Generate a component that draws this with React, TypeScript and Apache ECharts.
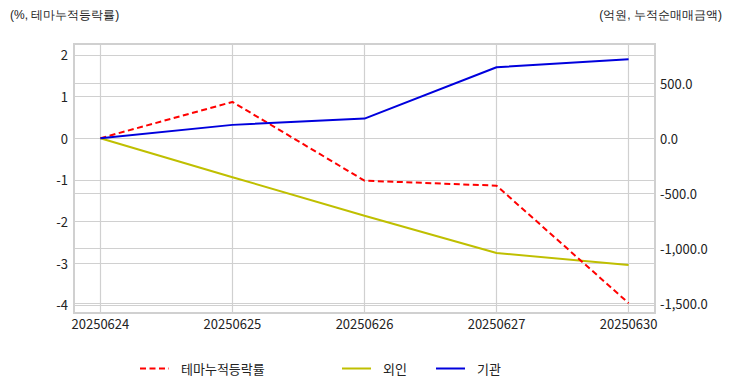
import React, { useEffect, useRef } from "react";
import * as echarts from "echarts";

const categories = ["20250624", "20250625", "20250626", "20250627", "20250630"];
const themeReturn = [0, 0.87, -1.02, -1.14, -3.96];
const foreign = [0, -355, -706, -1045, -1155];
const institution = [0, 121, 178, 645, 718];
const leftTicks = [-4, -3, -2, -1, 0, 1, 2];
const rightTicks = [-1500, -1000, -500, 0, 500];
const xTicks = [0, 1, 2, 3, 4];

const FONT = "'Noto Sans CJK KR', 'Noto Sans', sans-serif";

function fmtRight(v: number) {
  return v.toLocaleString("en-US", { minimumFractionDigits: 1, maximumFractionDigits: 1 });
}

export default function App() {
  const ref = useRef<HTMLDivElement>(null);
  useEffect(() => {
    if (!ref.current) return;
    const chart = echarts.init(ref.current, null, { renderer: "svg" });
    const toPairs = (arr: number[]) => arr.map((v, i) => [i, v]);
    const legendText = { fontSize: 13, color: "#222", fontFamily: FONT, padding: [0, 0, 0, 7] };
    const legendBase = {
      top: 362,
      padding: 0,
      itemWidth: 29,
      itemHeight: 14,
      itemStyle: { opacity: 0 },
      textStyle: legendText,
    };
    chart.setOption({
      animation: false,
      backgroundColor: "#ffffff",
      textStyle: { fontFamily: FONT },
      grid: {
        left: 74,
        right: 77,
        top: 44,
        height: 269,
        show: true,
        borderColor: "#d0d0d0",
        borderWidth: 2,
        containLabel: false,
      },
      graphic: [
        {
          type: "text",
          left: 10,
          top: 9,
          style: { text: "(%, 테마누적등락률)", fontSize: 12, fill: "#222", font: `12px ${FONT}` },
        },
        {
          type: "text",
          right: 10,
          top: 9,
          style: { text: "(억원, 누적순매매금액)", fontSize: 12, fill: "#222", font: `12px ${FONT}` },
        },
      ],
      legend: [
        { ...legendBase, data: ["테마누적등락률"], left: 139 },
        { ...legendBase, data: ["외인"], left: 341 },
        { ...legendBase, data: ["기관"], left: 435 },
      ],
      xAxis: {
        type: "value",
        min: -0.2,
        max: 4.2,
        axisLine: { show: false },
        axisTick: { show: false, customValues: xTicks },
        axisLabel: {
          customValues: xTicks,
          formatter: (v: number) => categories[Math.round(v)] ?? "",
          fontSize: 13,
          color: "#222",
          margin: 4,
          fontFamily: FONT,
        },
        splitLine: { show: true, lineStyle: { color: "#d0d0d0", width: 1.2 } },
      },
      yAxis: [
        {
          type: "value",
          position: "left",
          min: -4.197,
          max: 2.261,
          axisLine: { show: false },
          axisTick: { show: false, customValues: leftTicks },
          axisLabel: {
            customValues: leftTicks,
            fontSize: 13,
            color: "#222",
            margin: 6,
            fontFamily: FONT,
          },
          splitLine: { show: true, lineStyle: { color: "#d0d0d0", width: 1.2 } },
        },
        {
          type: "value",
          position: "right",
          min: -1591,
          max: 857,
          axisLine: { show: false },
          axisTick: { show: false, customValues: rightTicks },
          axisLabel: {
            customValues: rightTicks,
            formatter: (v: number) => fmtRight(v),
            fontSize: 13,
            color: "#222",
            margin: 5,
            fontFamily: FONT,
          },
          splitLine: { show: true, lineStyle: { color: "#d0d0d0", width: 1.2 } },
        },
      ],
      series: [
        {
          name: "테마누적등락률",
          type: "line",
          yAxisIndex: 0,
          data: toPairs(themeReturn),
          symbol: "none",
          color: "#ff0000",
          lineStyle: { color: "#ff0000", width: 2, type: [6, 3.5] },
          z: 3,
        },
        {
          name: "외인",
          type: "line",
          yAxisIndex: 1,
          data: toPairs(foreign),
          symbol: "none",
          color: "#bfbf00",
          lineStyle: { color: "#bfbf00", width: 2 },
          z: 2,
        },
        {
          name: "기관",
          type: "line",
          yAxisIndex: 1,
          data: toPairs(institution),
          symbol: "none",
          color: "#0000dd",
          lineStyle: { color: "#0000dd", width: 2 },
          z: 4,
        },
      ],
    });
    return () => chart.dispose();
  }, []);
  return (
    <div
      ref={ref}
      style={{ position: "fixed", left: 0, top: 0, width: 732, height: 392, background: "#fff" }}
    />
  );
}
